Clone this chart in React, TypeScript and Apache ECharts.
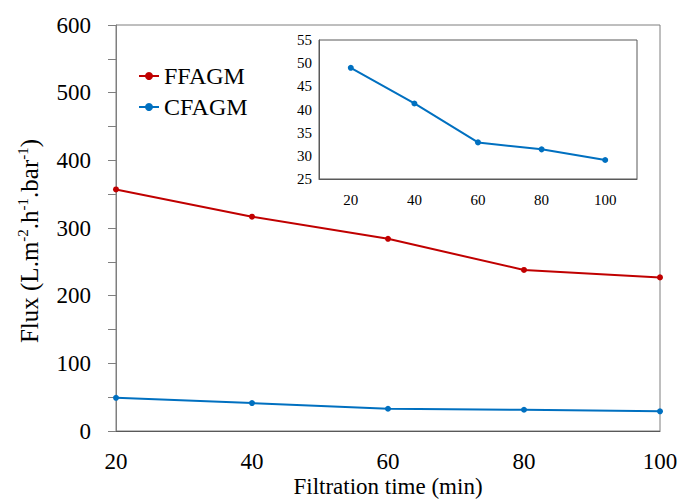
import React, { useEffect, useRef } from "react";
import * as echarts from "echarts";

const times = [20, 40, 60, 80, 100];
const ffagm = [357, 316.7, 284, 238, 227];
const cfagm = [49, 41.3, 32.9, 31.4, 29.1];
const insetCategories = ["20", "40", "60", "80", "100"];

const FONT = "Liberation Serif";
const RED = "#C00000";
const BLUE = "#0070C0";

export default function App() {
  const ref = useRef<HTMLDivElement>(null);
  useEffect(() => {
    if (!ref.current) return;
    const chart = echarts.init(ref.current, null, { renderer: "svg" });
    chart.setOption({
      animation: false,
      backgroundColor: "#ffffff",
      textStyle: { fontFamily: FONT, color: "#000" },
      legend: [
        {
          data: ["FFAGM", "CFAGM"],
          orient: "vertical",
          left: 133,
          top: 58,
          itemWidth: 20,
          itemHeight: 10,
          itemGap: 5,
          textStyle: { fontFamily: FONT, fontSize: 24, color: "#000", lineHeight: 26 },
          selectedMode: false,
        },
        {
          data: ["CFAGM"],
          orient: "vertical",
          left: 506,
          top: 56,
          itemWidth: 17,
          itemHeight: 10,
          textStyle: { fontFamily: FONT, fontSize: 21, color: "#000", lineHeight: 23 },
          selectedMode: false,
        },
      ],
      grid: [
        {
          left: 116,
          right: 21,
          top: 25,
          bottom: 68,
          show: true,
          borderColor: "#7f7f7f",
          borderWidth: 1,
          outerBoundsMode: "none",
        },
        {
          left: 319,
          right: 44,
          top: 40,
          bottom: 320,
          show: true,
          backgroundColor: "#ffffff",
          borderColor: "#595959",
          borderWidth: 1,
          outerBoundsMode: "none",
          z: 5,
        },
      ],
      xAxis: [
        {
          type: "value",
          gridIndex: 0,
          min: 20,
          max: 100,
          interval: 20,
          name: "Filtration time (min)",
          nameLocation: "middle",
          nameGap: 43,
          nameMoveOverlap: false,
          nameTextStyle: { fontFamily: FONT, fontSize: 23, color: "#000", lineHeight: 24 },
          axisLine: { lineStyle: { color: "#595959", width: 1 } },
          axisTick: { show: false },
          splitLine: { show: false },
          axisLabel: { fontFamily: FONT, fontSize: 23, color: "#000", margin: 19, lineHeight: 23 },
        },
        {
          type: "category",
          gridIndex: 1,
          data: insetCategories,
          boundaryGap: true,
          axisLine: { lineStyle: { color: "#595959", width: 1 } },
          axisTick: { show: false },
          splitLine: { show: false },
          axisLabel: { fontFamily: FONT, fontSize: 15, color: "#000", margin: 13 },
          z: 6,
        },
      ],
      yAxis: [
        {
          type: "value",
          gridIndex: 0,
          min: 0,
          max: 600,
          interval: 50,
          name: "{a|Flux (L.m}{s|-2}{a|.h}{s|-1}{a|.bar}{s|-1}{a|)}",
          nameLocation: "middle",
          nameGap: 74,
          nameMoveOverlap: false,
          nameTextStyle: {
            fontFamily: FONT,
            color: "#000",
            padding: [0, 26, 0, 0],
            rich: {
              a: { fontFamily: FONT, fontSize: 25, color: "#000", verticalAlign: "bottom", lineHeight: 27 },
              s: { fontFamily: FONT, fontSize: 15, color: "#000", verticalAlign: "top", lineHeight: 15 },
            },
          },
          axisLine: { show: true, lineStyle: { color: "#7f7f7f", width: 1 } },
          axisTick: { show: true, inside: false, length: 8, lineStyle: { color: "#7f7f7f" } },
          splitLine: { show: false },
          axisLabel: {
            fontFamily: FONT,
            fontSize: 23,
            color: "#000",
            margin: 25,
            formatter: (v: number) => (v % 100 === 0 ? String(v) : ""),
          },
        },
        {
          type: "value",
          gridIndex: 1,
          min: 25,
          max: 55,
          interval: 5,
          axisLine: { show: true, lineStyle: { color: "#595959", width: 1 } },
          axisTick: { show: false },
          splitLine: { show: false },
          axisLabel: { fontFamily: FONT, fontSize: 15, color: "#000", margin: 7 },
          z: 6,
        },
      ],
      series: [
        {
          name: "FFAGM",
          type: "line",
          xAxisIndex: 0,
          yAxisIndex: 0,
          data: times.map((t, i) => [t, ffagm[i]]),
          symbol: "circle",
          symbolSize: 6,
          itemStyle: { color: RED },
          lineStyle: { color: RED, width: 2 },
        },
        {
          name: "CFAGM",
          type: "line",
          xAxisIndex: 0,
          yAxisIndex: 0,
          data: times.map((t, i) => [t, cfagm[i]]),
          symbol: "circle",
          symbolSize: 6,
          itemStyle: { color: BLUE },
          lineStyle: { color: BLUE, width: 2 },
        },
        {
          name: "CFAGM",
          type: "line",
          xAxisIndex: 1,
          yAxisIndex: 1,
          data: cfagm,
          symbol: "circle",
          symbolSize: 6,
          itemStyle: { color: BLUE },
          lineStyle: { color: BLUE, width: 2 },
          z: 7,
        },
      ],
    });
    return () => chart.dispose();
  }, []);
  return <div ref={ref} style={{ width: 681, height: 499, position: "absolute", left: 0, top: 0 }} />;
}
